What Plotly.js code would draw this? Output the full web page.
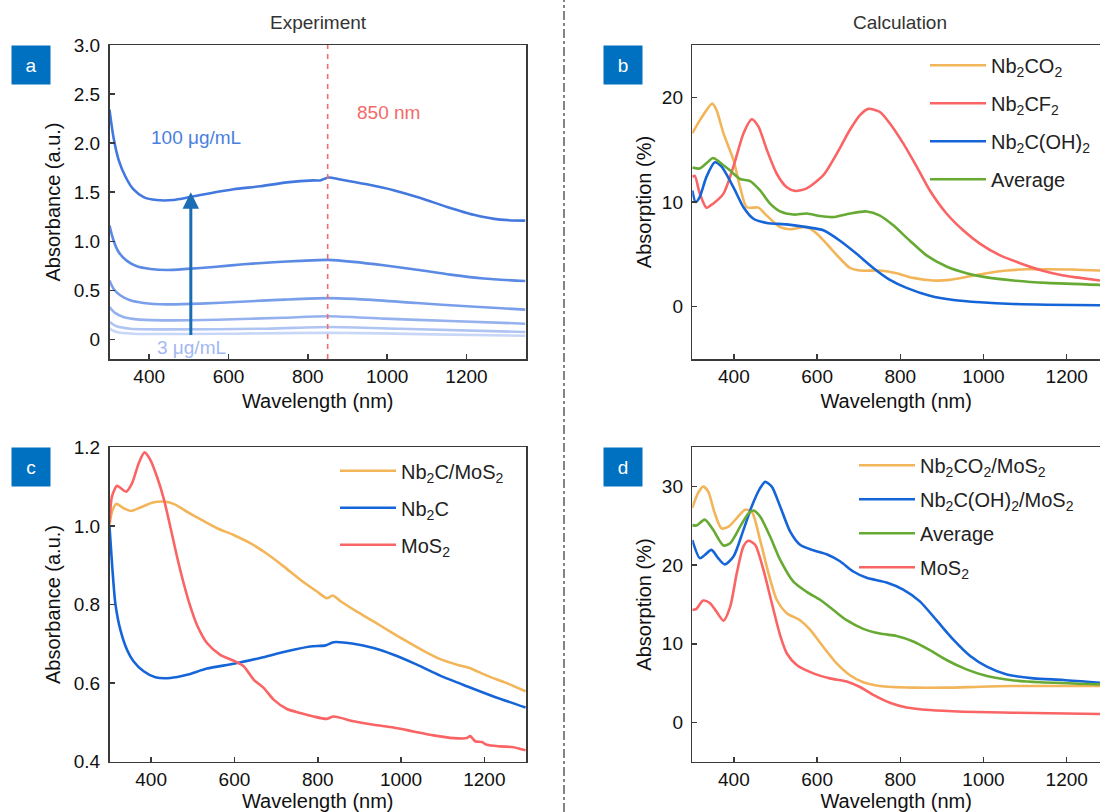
<!DOCTYPE html>
<html>
<head>
<meta charset="utf-8">
<script src="https://cdn.plot.ly/plotly-3.0.1.min.js"></script>
<style>html,body{margin:0;padding:0;background:#fff;}#chart{width:1100px;height:812px;}</style>
</head>
<body>
<div id="chart"></div>
<script>
// ---------------- Panel a: experiment, concentration series ----------------
const concLabels = ['100 μg/mL', 'c2', 'c3', 'c4', 'c5', '3 μg/mL'];
const wlA1 = [300,310,323,340,360,386,419,461,503,554,613,680,747,815,831,852,882,949,1016,1084,1151,1218,1285,1348];
const absA1 = [2.34,2.06,1.83,1.66,1.53,1.45,1.42,1.42,1.45,1.49,1.53,1.56,1.60,1.62,1.62,1.65,1.63,1.58,1.52,1.44,1.35,1.27,1.22,1.21];
const wlA2 = [300,310,323,344,369,403,445,495,562,638,714,781,852,915,991,1075,1159,1243,1348];
const absA2 = [1.16,1.01,0.89,0.80,0.745,0.718,0.707,0.718,0.738,0.765,0.786,0.80,0.81,0.79,0.755,0.71,0.66,0.62,0.595];
const wlA3 = [300,310,327,352,386,445,529,630,739,852,949,1075,1201,1348];
const absA3 = [0.60,0.517,0.449,0.398,0.371,0.357,0.364,0.384,0.405,0.42,0.405,0.37,0.337,0.303];
const wlA4 = [300,314,335,369,445,571,739,852,991,1159,1348];
const absA4 = [0.33,0.27,0.228,0.204,0.194,0.20,0.221,0.235,0.211,0.187,0.16];
const wlA5 = [300,318,352,445,697,852,1033,1348];
const absA5 = [0.177,0.133,0.109,0.102,0.109,0.126,0.109,0.075];
const wlA6 = [300,318,360,613,852,1117,1348];
const absA6 = [0.109,0.075,0.058,0.058,0.068,0.051,0.037];
const arrowWl = 505, arrowFrom = 0.03, arrowTo = 1.50;
const markerWl = 850;
const aTickVals = [0,0.5,1,1.5,2,2.5,3];
const aTickText = ['0','0.5','1.0','1.5','2.0','2.5','3.0'];

// ---------------- Panel b: calculation, MXenes ----------------
const nameB = ['Nb<sub>2</sub>CO<sub>2</sub>','Nb<sub>2</sub>CF<sub>2</sub>','Nb<sub>2</sub>C(OH)<sub>2</sub>','Average'];
const wlB_CO2 = [300,318,348,358,375,399,415,431,459,479,511,535,575,599,623,655,679,703,751,791,831,879,919,967,1008,1056,1104,1152,1216,1280];
const abB_CO2 = [16.55,17.8,19.4,18.8,16.55,14.0,11.4,9.5,9.46,8.7,7.6,7.4,7.6,7.0,6.0,4.6,3.7,3.45,3.45,3.2,2.75,2.5,2.56,2.9,3.2,3.45,3.58,3.58,3.55,3.45];
const wlB_CF2 = [300,306,318,334,350,375,399,423,443,459,479,503,527,547,575,615,647,679,703,723,751,775,807,839,871,911,951,992,1040,1088,1136,1192,1232,1280];
const abB_CF2 = [12.4,12.5,10.8,9.46,9.84,10.8,13.4,16.55,17.9,17.2,15.0,12.7,11.4,11.06,11.3,12.56,14.6,16.9,18.3,18.9,18.6,17.5,15.6,13.4,11.1,8.9,7.3,6.0,4.9,4.15,3.5,2.97,2.75,2.5];
const wlB_OH = [300,308,318,334,354,370,399,423,447,479,527,575,615,655,695,735,775,815,871,928,992,1072,1152,1280];
const abB_OH = [11.1,10.0,10.5,12.4,13.8,13.4,11.4,9.5,8.4,8.0,7.86,7.6,7.3,6.3,5.05,3.7,2.56,1.8,1.05,0.64,0.42,0.26,0.19,0.13];
const wlB_Avg = [300,318,334,350,366,391,415,439,463,487,511,543,575,607,639,679,719,751,783,823,863,911,959,1008,1072,1152,1280];
const abB_Avg = [13.3,13.2,13.7,14.2,13.8,13.0,12.2,12.0,11.1,9.84,9.1,8.8,8.9,8.66,8.56,8.9,9.1,8.7,7.77,6.3,4.9,3.84,3.2,2.8,2.5,2.27,2.08];

// ---------------- Panel c: experiment, heterostructure ----------------
const nameC = ['Nb<sub>2</sub>C/MoS<sub>2</sub>','Nb<sub>2</sub>C','MoS<sub>2</sub>'];
const wlC_Het = [300,306,316,334,351,374,406,430,454,486,518,558,598,638,678,718,758,798,822,836,854,894,934,974,1014,1054,1094,1134,1166,1206,1254,1299];
const abC_Het = [1.003,1.036,1.056,1.045,1.038,1.047,1.06,1.062,1.056,1.036,1.017,0.994,0.977,0.956,0.929,0.897,0.863,0.833,0.816,0.823,0.809,0.782,0.757,0.731,0.706,0.682,0.661,0.647,0.638,0.619,0.600,0.579];
const wlC_Nb = [300,306,314,326,342,358,382,410,446,486,534,598,662,726,782,819,838,886,934,982,1038,1094,1158,1222,1299];
const abC_Nb = [0.998,0.905,0.803,0.736,0.685,0.655,0.630,0.615,0.613,0.621,0.637,0.649,0.664,0.681,0.693,0.696,0.704,0.700,0.689,0.672,0.647,0.619,0.592,0.566,0.538];
const wlC_Mo = [300,306,318,327,340,354,370,384,398,414,430,446,462,478,494,510,534,566,598,622,646,670,694,726,758,790,821,838,886,934,982,1030,1078,1126,1158,1166,1178,1194,1206,1238,1270,1299];
const abC_Mo = [1.007,1.075,1.102,1.096,1.087,1.108,1.159,1.187,1.168,1.125,1.07,0.998,0.922,0.854,0.795,0.748,0.702,0.672,0.657,0.643,0.609,0.588,0.558,0.534,0.524,0.515,0.509,0.515,0.503,0.494,0.487,0.477,0.467,0.460,0.460,0.465,0.452,0.450,0.443,0.439,0.437,0.429];

// ---------------- Panel d: calculation, heterostructure ----------------
const nameD = ['Nb<sub>2</sub>CO<sub>2</sub>/MoS<sub>2</sub>','Nb<sub>2</sub>C(OH)<sub>2</sub>/MoS<sub>2</sub>','Average','MoS<sub>2</sub>'];
const wlD_CO2 = [300,314,326,338,354,370,387,407,427,443,463,483,503,527,559,583,615,647,679,711,751,831,911,992,1072,1280];
const abD_CO2 = [27.3,29.2,30.0,29.4,26.6,24.7,24.9,26.0,27.05,26.8,23.2,19.0,15.6,13.9,13.0,11.8,9.6,7.5,6.0,5.1,4.63,4.42,4.42,4.54,4.63,4.63];
const wlD_OH = [300,318,330,346,362,378,399,423,443,463,475,491,511,535,559,591,623,655,687,719,767,807,847,887,928,968,1008,1056,1120,1192,1280];
const abD_OH = [23.2,20.9,21.3,21.95,20.9,20.1,21.1,24.5,27.5,29.8,30.6,30.0,27.5,24.3,22.6,21.9,21.4,20.5,19.2,18.4,17.8,16.9,15.4,13.0,10.5,8.45,7.1,6.1,5.6,5.4,5.05];
const wlD_Avg = [300,310,330,350,375,391,415,435,447,463,487,511,543,575,607,639,671,711,751,791,831,871,911,959,1008,1064,1136,1280];
const abD_Avg = [25.1,25.05,25.8,24.5,22.5,22.8,24.9,26.6,26.96,26.2,23.65,20.7,17.9,16.6,15.6,14.3,13.0,11.9,11.3,11.0,10.3,9.2,7.94,6.75,5.9,5.4,5.1,4.84];
const wlD_Mo = [300,309,326,342,358,375,391,407,423,435,451,471,491,511,527,551,591,631,671,703,735,775,815,871,951,1072,1280];
const abD_Mo = [14.3,14.4,15.5,15.2,14.1,12.95,14.7,19.0,22.4,23.1,22.6,19.4,15.2,11.1,8.8,7.3,6.24,5.6,5.2,4.5,3.5,2.5,1.9,1.57,1.36,1.23,1.06];

// ---------------- styling ----------------
const FONT = 'Liberation Sans, Arial, Helvetica, sans-serif';
const cOrange = '#F2B55A', cRed = '#FA6464', cBlue = '#1565D8', cGreen = '#66AA33';
const aColors = ['#4378DE','#5A8AE4','#7A9FEA','#95B2EE','#AFC4F3','#C8D6F7'];
const W = 1100, H = 812;
const px = v => v / W, py = v => 1 - v / H;

function ln(x, y, color, xa, ya, name, legend) {
  return {
    x: x, y: y, type: 'scatter', mode: 'lines', name: name || '',
    xaxis: xa, yaxis: ya, hoverinfo: 'skip',
    line: {color: color, width: 2.6, shape: 'spline', smoothing: 0.7},
    showlegend: !!legend, legend: legend || 'legend', legendgroup: name || ''
  };
}

const traces = [
  ln(wlA6, absA6, aColors[5], 'x', 'y'),
  ln(wlA5, absA5, aColors[4], 'x', 'y'),
  ln(wlA4, absA4, aColors[3], 'x', 'y'),
  ln(wlA3, absA3, aColors[2], 'x', 'y'),
  ln(wlA2, absA2, aColors[1], 'x', 'y'),
  ln(wlA1, absA1, aColors[0], 'x', 'y'),
  ln(wlB_CO2, abB_CO2, cOrange, 'x2', 'y2', nameB[0], 'legend'),
  ln(wlB_CF2, abB_CF2, cRed, 'x2', 'y2', nameB[1], 'legend'),
  ln(wlB_OH, abB_OH, cBlue, 'x2', 'y2', nameB[2], 'legend'),
  ln(wlB_Avg, abB_Avg, cGreen, 'x2', 'y2', nameB[3], 'legend'),
  ln(wlC_Het, abC_Het, cOrange, 'x3', 'y3', nameC[0], 'legend2'),
  ln(wlC_Nb, abC_Nb, cBlue, 'x3', 'y3', nameC[1], 'legend2'),
  ln(wlC_Mo, abC_Mo, cRed, 'x3', 'y3', nameC[2], 'legend2'),
  ln(wlD_CO2, abD_CO2, cOrange, 'x4', 'y4', nameD[0], 'legend3'),
  ln(wlD_OH, abD_OH, cBlue, 'x4', 'y4', nameD[1], 'legend3'),
  ln(wlD_Avg, abD_Avg, cGreen, 'x4', 'y4', nameD[2], 'legend3'),
  ln(wlD_Mo, abD_Mo, cRed, 'x4', 'y4', nameD[3], 'legend3')
];

const axLine = '#3a3a3a';
function xAx(domain, range, anchor, mirror) {
  return {domain: domain, range: range, anchor: anchor, showline: true, linecolor: axLine, linewidth: 1.5,
    mirror: mirror, ticks: 'inside', ticklen: 5, tickwidth: 1.5, tickcolor: axLine,
    tickvals: [400,600,800,1000,1200], showgrid: false, zeroline: false,
    tickfont: {family: FONT, size: 19, color: '#111'}, ticklabelstandoff: 0,
    title: {text: 'Wavelength (nm)', font: {family: FONT, size: 20, color: '#111'}, standoff: 7}};
}
function yAx(domain, range, anchor, mirror, vals, text, title, standoff) {
  return {domain: domain, range: range, anchor: anchor, showline: true, linecolor: axLine, linewidth: 1.5,
    mirror: mirror, ticks: 'inside', ticklen: 5, tickwidth: 1.5, tickcolor: axLine,
    tickvals: vals, ticktext: text, showgrid: false, zeroline: false,
    tickfont: {family: FONT, size: 19, color: '#111'}, ticklabelstandoff: 4,
    title: {text: title, font: {family: FONT, size: 20, color: '#111'}, standoff: standoff}};
}

const domLeft = [px(109.5), px(526)], domRight = [px(692.3), 1];
const domTop = [py(359), py(45)], domBot = [py(761.7), py(447.3)];

function legendCfg(x, y, gap) {
  return {x: x, y: y, xanchor: 'left', yanchor: 'top', bgcolor: 'rgba(0,0,0,0)', borderwidth: 0,
    font: {family: FONT, size: 20, color: '#222'}, itemwidth: 56, tracegroupgap: gap,
    traceorder: 'grouped', itemclick: false, itemdoubleclick: false};
}

function box(letter, x, y) {
  return {text: letter, xref: 'paper', yref: 'paper', x: px(x), y: py(y), xanchor: 'left', yanchor: 'top',
    showarrow: false, bgcolor: '#0070C0', width: 38, height: 38, borderpad: 0,
    font: {family: FONT, size: 19, color: '#fff'}, align: 'center', valign: 'middle'};
}

const layout = {
  width: W, height: H, margin: {l: 0, r: 0, t: 0, b: 0},
  paper_bgcolor: '#fff', plot_bgcolor: 'rgba(0,0,0,0)', showlegend: true,
  xaxis: xAx(domLeft, [300, 1350], 'y', true),
  yaxis: yAx(domTop, [-0.2, 3.0], 'x', true, aTickVals, aTickText, 'Absorbance (a.u.)', 8),
  xaxis2: xAx(domRight, [300, 1280], 'y2', true),
  yaxis2: yAx(domTop, [-5, 25], 'x2', false, [0,10,20], ['0','10','20'], 'Absorption (%)', 5),
  xaxis3: xAx(domLeft, [300, 1300], 'y3', true),
  yaxis3: yAx(domBot, [0.4, 1.2], 'x3', true, [0.4,0.6,0.8,1.0,1.2], ['0.4','0.6','0.8','1.0','1.2'], 'Absorbance (a.u.)', 8),
  xaxis4: xAx(domRight, [300, 1280], 'y4', true),
  yaxis4: yAx(domBot, [-5, 35], 'x4', false, [0,10,20,30], ['0','10','20','30'], 'Absorption (%)', 5),
  legend: legendCfg(px(925), py(45.7), 9),
  legend2: legendCfg(px(335), py(451.3), 8),
  legend3: legendCfg(px(854), py(445.7), 5),
  shapes: [
    {type: 'line', xref: 'paper', yref: 'paper', x0: px(564), x1: px(564), y0: 0, y1: 1,
     line: {color: '#333', width: 1.2, dash: 'dashdot'}},
    {type: 'line', xref: 'x', yref: 'y domain', x0: markerWl, x1: markerWl, y0: 0, y1: 1,
     line: {color: '#F26A6A', width: 1.6, dash: '5px,5px'}}
  ],
  annotations: [
    {text: 'Experiment', xref: 'paper', yref: 'paper', x: px(318), y: py(22), xanchor: 'center', yanchor: 'middle',
     showarrow: false, font: {family: FONT, size: 19, color: '#333'}},
    {text: 'Calculation', xref: 'paper', yref: 'paper', x: px(900), y: py(22), xanchor: 'center', yanchor: 'middle',
     showarrow: false, font: {family: FONT, size: 19, color: '#333'}},
    box('a', 11, 45), box('b', 603, 45), box('c', 11, 447.3), box('d', 603, 447.3),
    {text: concLabels[0], xref: 'x', yref: 'y', x: 400, y: 2.06, xanchor: 'left', yanchor: 'middle',
     showarrow: false, font: {family: FONT, size: 19, color: '#4A7FE0'}},
    {text: concLabels[5], xref: 'x', yref: 'y', x: 415, y: -0.08, xanchor: 'left', yanchor: 'middle',
     showarrow: false, font: {family: FONT, size: 19, color: '#A3B7F4'}},
    {text: markerWl + ' nm', xref: 'x', yref: 'y', x: 918, y: 2.31, xanchor: 'left', yanchor: 'middle',
     showarrow: false, font: {family: FONT, size: 19, color: '#F26A6A'}},
    {text: '', xref: 'x', yref: 'y', x: arrowWl, y: arrowTo, axref: 'x', ayref: 'y', ax: arrowWl, ay: arrowFrom,
     showarrow: true, arrowhead: 2, arrowsize: 1.1, arrowwidth: 3, arrowcolor: '#1A6CB5', standoff: 0, startstandoff: 0}
  ]
};

Plotly.newPlot('chart', traces, layout, {staticPlot: true, displayModeBar: false});
</script>
</body>
</html>
